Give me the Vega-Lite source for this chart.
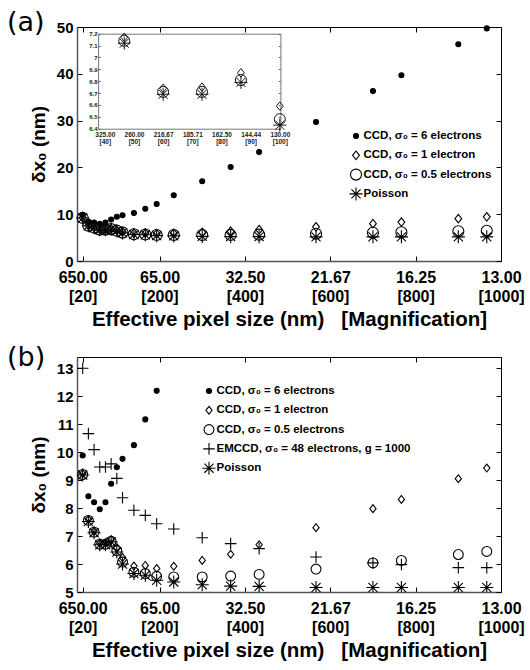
{
  "$schema": "https://vega.github.io/schema/vega-lite/v6.json",
  "padding": {"left": 6, "top": 8, "right": 5, "bottom": 5},
  "spacing": 13,
  "resolve": {"scale": {"shape": "independent", "size": "independent", "fill": "independent", "stroke": "independent"}, "legend": {"shape": "independent", "size": "independent", "fill": "independent", "stroke": "independent"}},
  "config": {
    "font": "Liberation Sans",
    "view": {"stroke": "black", "strokeWidth": 1},
    "axis": {"grid": false, "domainColor": "#555", "domainWidth": 1.5, "tickColor": "black", "labelFont": "Liberation Sans", "labelFontWeight": "bold", "labelColor": "black", "titleFont": "Liberation Sans", "titleFontWeight": "bold", "titleColor": "black", "labelOverlap": false, "labelFlush": false},
    "legend": {"labelFont": "Liberation Sans", "labelFontSize": 11.5, "labelFontWeight": "bold", "labelColor": "black", "labelLimit": 400, "symbolStrokeColor": "black", "symbolStrokeWidth": 1.1, "symbolOpacity": 1, "rowPadding": 5.3, "clipHeight": 14, "labelOffset": 0, "padding": 0}
  },
  "datasets": {
    "d": [
      {"M": 20, "s": "a", "v": 9.88}, {"M": 33.33, "s": "a", "v": 8.42}, {"M": 46.67, "s": "a", "v": 8.21}, {"M": 60, "s": "a", "v": 7.96}, {"M": 73.33, "s": "a", "v": 8.21}, {"M": 86.67, "s": "a", "v": 8.87}, {"M": 100, "s": "a", "v": 9.46}, {"M": 113.33, "s": "a", "v": 9.76}, {"M": 140, "s": "a", "v": 10.25}, {"M": 166.67, "s": "a", "v": 11.17}, {"M": 193.33, "s": "a", "v": 12.19}, {"M": 233.33, "s": "a", "v": 14.05}, {"M": 300, "s": "a", "v": 17.05}, {"M": 366.67, "s": "a", "v": 20.1}, {"M": 433.33, "s": "a", "v": 23.3}, {"M": 566.67, "s": "a", "v": 29.7}, {"M": 700, "s": "a", "v": 36.3}, {"M": 766.67, "s": "a", "v": 39.7}, {"M": 900, "s": "a", "v": 46.3}, {"M": 966.67, "s": "a", "v": 49.7},
      {"M": 20, "s": "b", "v": 9.23}, {"M": 33.33, "s": "b", "v": 7.59}, {"M": 46.67, "s": "b", "v": 7.17}, {"M": 60, "s": "b", "v": 6.74}, {"M": 73.33, "s": "b", "v": 6.75}, {"M": 86.67, "s": "b", "v": 6.87}, {"M": 100, "s": "b", "v": 6.59}, {"M": 113.33, "s": "b", "v": 6.23}, {"M": 140, "s": "b", "v": 5.93}, {"M": 166.67, "s": "b", "v": 5.95}, {"M": 193.33, "s": "b", "v": 5.84}, {"M": 233.33, "s": "b", "v": 5.92}, {"M": 300, "s": "b", "v": 6.13}, {"M": 366.67, "s": "b", "v": 6.35}, {"M": 433.33, "s": "b", "v": 6.69}, {"M": 566.67, "s": "b", "v": 7.3}, {"M": 700, "s": "b", "v": 7.98}, {"M": 766.67, "s": "b", "v": 8.31}, {"M": 900, "s": "b", "v": 9.05}, {"M": 966.67, "s": "b", "v": 9.43},
      {"M": 20, "s": "c", "v": 9.2}, {"M": 33.33, "s": "c", "v": 7.56}, {"M": 46.67, "s": "c", "v": 7.14}, {"M": 60, "s": "c", "v": 6.71}, {"M": 73.33, "s": "c", "v": 6.71}, {"M": 86.67, "s": "c", "v": 6.81}, {"M": 100, "s": "c", "v": 6.48}, {"M": 113.33, "s": "c", "v": 6.07}, {"M": 140, "s": "c", "v": 5.71}, {"M": 166.67, "s": "c", "v": 5.66}, {"M": 193.33, "s": "c", "v": 5.56}, {"M": 233.33, "s": "c", "v": 5.54}, {"M": 300, "s": "c", "v": 5.54}, {"M": 366.67, "s": "c", "v": 5.57}, {"M": 433.33, "s": "c", "v": 5.63}, {"M": 566.67, "s": "c", "v": 5.82}, {"M": 700, "s": "c", "v": 6.04}, {"M": 766.67, "s": "c", "v": 6.13}, {"M": 900, "s": "c", "v": 6.34}, {"M": 966.67, "s": "c", "v": 6.45},
      {"M": 20, "s": "e", "v": 13.0}, {"M": 33.33, "s": "e", "v": 10.66}, {"M": 46.67, "s": "e", "v": 10.09}, {"M": 60, "s": "e", "v": 9.47}, {"M": 73.33, "s": "e", "v": 9.47}, {"M": 86.67, "s": "e", "v": 9.58}, {"M": 100, "s": "e", "v": 9.06}, {"M": 113.33, "s": "e", "v": 8.37}, {"M": 140, "s": "e", "v": 7.92}, {"M": 166.67, "s": "e", "v": 7.74}, {"M": 193.33, "s": "e", "v": 7.44}, {"M": 233.33, "s": "e", "v": 7.25}, {"M": 300, "s": "e", "v": 6.94}, {"M": 366.67, "s": "e", "v": 6.73}, {"M": 433.33, "s": "e", "v": 6.55}, {"M": 566.67, "s": "e", "v": 6.25}, {"M": 700, "s": "e", "v": 6.04}, {"M": 766.67, "s": "e", "v": 5.98}, {"M": 900, "s": "e", "v": 5.87}, {"M": 966.67, "s": "e", "v": 5.87},
      {"M": 20, "s": "p", "v": 9.18}, {"M": 33.33, "s": "p", "v": 7.52}, {"M": 46.67, "s": "p", "v": 7.12}, {"M": 60, "s": "p", "v": 6.69}, {"M": 73.33, "s": "p", "v": 6.69}, {"M": 86.67, "s": "p", "v": 6.79}, {"M": 100, "s": "p", "v": 6.43}, {"M": 113.33, "s": "p", "v": 6.0}, {"M": 140, "s": "p", "v": 5.66}, {"M": 166.67, "s": "p", "v": 5.6}, {"M": 193.33, "s": "p", "v": 5.42}, {"M": 233.33, "s": "p", "v": 5.36}, {"M": 300, "s": "p", "v": 5.26}, {"M": 366.67, "s": "p", "v": 5.21}, {"M": 433.33, "s": "p", "v": 5.2}, {"M": 566.67, "s": "p", "v": 5.16}, {"M": 700, "s": "p", "v": 5.16}, {"M": 766.67, "s": "p", "v": 5.16}, {"M": 900, "s": "p", "v": 5.16}, {"M": 966.67, "s": "p", "v": 5.16}
    ]
  },
  "vconcat": [
    {
      "width": 424,
      "height": 234,
      "title": {"text": "(a)", "anchor": "start", "frame": "group", "offset": 0, "dx": -70, "dy": 17, "font": "DejaVu Sans", "fontSize": 27, "fontWeight": "normal", "color": "black"},
      "data": {"name": "d"},
      "transform": [{"filter": "datum.s != 'e'"}],
      "resolve": {"scale": {"x": "independent", "y": "independent"}},
      "layer": [
        {
          "mark": {"type": "point", "strokeWidth": 1.1, "opacity": 1},
          "encoding": {
            "x": {"field": "M", "type": "quantitative", "scale": {"domain": [6.667, 1000], "nice": false, "zero": false},
              "axis": {"orient": "bottom", "values": [20, 200, 400, 600, 800, 1000], "labelExpr": "[format(13000/datum.value, '.2f'), '[' + datum.value + ']']", "labelFontSize": 16, "labelLineHeight": 19, "tickSize": -5, "labelPadding": 13, "title": "Effective pixel size (nm)\u00a0\u00a0\u00a0[Magnification]", "titleFontSize": 20.5, "titlePadding": 5}},
            "y": {"field": "v", "type": "quantitative", "scale": {"domain": [0, 50], "nice": false, "zero": false},
              "axis": {"orient": "left", "values": [0, 10, 20, 30, 40, 50], "labelFontSize": 15, "tickSize": -5, "labelPadding": 9, "title": "δx₀ (nm)", "titleFontSize": 19, "titlePadding": 8}},
            "shape": {"field": "s", "type": "nominal", "scale": {"domain": ["a", "b", "c", "p"], "range": ["circle", "M0,-1L0.8,0L0,1L-0.8,0Z", "circle", "M-1,0L1,0M0,-1L0,1M-0.7,-0.7L0.7,0.7M-0.7,0.7L0.7,-0.7"]},
              "legend": {"orient": "none", "legendX": 271.5, "legendY": 102, "title": null, "labelExpr": "datum.label == 'a' ? 'CCD, σ₀ = 6 electrons' : datum.label == 'b' ? 'CCD, σ₀ = 1 electron' : datum.label == 'c' ? 'CCD, σ₀ = 0.5 electrons' : datum.label == 'e' ? 'EMCCD, σ₀ = 48 electrons, g = 1000' : 'Poisson'"}},
            "size": {"field": "s", "type": "nominal", "scale": {"domain": ["a", "b", "c", "p"], "range": [25, 170, 95, 64]},
              "legend": {"orient": "none", "legendX": 271.5, "legendY": 102, "title": null, "labelExpr": "datum.label == 'a' ? 'CCD, σ₀ = 6 electrons' : datum.label == 'b' ? 'CCD, σ₀ = 1 electron' : datum.label == 'c' ? 'CCD, σ₀ = 0.5 electrons' : datum.label == 'e' ? 'EMCCD, σ₀ = 48 electrons, g = 1000' : 'Poisson'"}},
            "fill": {"field": "s", "type": "nominal", "scale": {"domain": ["a", "b", "c", "p"], "range": ["black", "transparent", "transparent", "transparent"]},
              "legend": {"orient": "none", "legendX": 271.5, "legendY": 102, "title": null, "labelExpr": "datum.label == 'a' ? 'CCD, σ₀ = 6 electrons' : datum.label == 'b' ? 'CCD, σ₀ = 1 electron' : datum.label == 'c' ? 'CCD, σ₀ = 0.5 electrons' : datum.label == 'e' ? 'EMCCD, σ₀ = 48 electrons, g = 1000' : 'Poisson'"}},
            "stroke": {"field": "s", "type": "nominal", "scale": {"domain": ["a", "b", "c", "p"], "range": ["black", "black", "black", "black"]},
              "legend": {"orient": "none", "legendX": 271.5, "legendY": 102, "title": null, "labelExpr": "datum.label == 'a' ? 'CCD, σ₀ = 6 electrons' : datum.label == 'b' ? 'CCD, σ₀ = 1 electron' : datum.label == 'c' ? 'CCD, σ₀ = 0.5 electrons' : datum.label == 'e' ? 'EMCCD, σ₀ = 48 electrons, g = 1000' : 'Poisson'"}}
          }
        },
        {
          "mark": {"type": "point", "opacity": 0, "clip": true},
          "encoding": {
            "x": {"field": "M", "type": "quantitative", "scale": {"domain": [6.667, 1000], "nice": false, "zero": false},
              "axis": {"orient": "top", "values": [20, 200, 400, 600, 800, 1000], "labels": false, "tickSize": -5, "domain": false, "title": null}},
            "y": {"field": "v", "type": "quantitative", "scale": {"domain": [0, 50], "nice": false, "zero": false},
              "axis": {"orient": "right", "values": [0, 10, 20, 30, 40, 50], "labels": false, "tickSize": -5, "domain": false, "title": null}}
          }
        },
        {
          "transform": [{"filter": "datum.s != 'a' && datum.M >= 40 && datum.M <= 101"}],
          "mark": {"type": "point", "strokeWidth": 0.9, "opacity": 1},
          "encoding": {
            "x": {"field": "M", "type": "quantitative", "scale": {"domain": [37.7, 100.2], "range": [21.1, 203.4], "nice": false, "zero": false},
              "axis": {"orient": "bottom", "offset": -132.3, "values": [40, 50, 60, 70, 80, 90, 100], "labelExpr": "[format(13000/datum.value, '.2f'), '[' + datum.value + ']']", "labelFontSize": 6.5, "labelLineHeight": 7, "labelColor": "#222", "ticks": false, "labelPadding": 3, "domainColor": "#777", "domainWidth": 1, "title": null}},
            "y": {"field": "v", "type": "quantitative", "scale": {"domain": [6.4, 7.2], "range": [101.7, 6.7], "nice": false, "zero": false},
              "axis": {"orient": "left", "offset": -21.1, "values": [6.4, 6.5, 6.6, 6.7, 6.8, 6.9, 7, 7.1, 7.2], "format": "~g", "labelFontSize": 6, "labelColor": "#222", "tickSize": -2, "tickColor": "#555", "labelPadding": 3, "domainColor": "#777", "domainWidth": 1, "title": null}},
            "shape": {"field": "s", "type": "nominal", "legend": null},
            "size": {"field": "s", "type": "nominal", "legend": null},
            "fill": {"field": "s", "type": "nominal", "legend": null},
            "stroke": {"field": "s", "type": "nominal", "legend": null}
          }
        },
        {
          "transform": [{"filter": "datum.s != 'a' && datum.M >= 40 && datum.M <= 101"}],
          "mark": {"type": "point", "opacity": 0},
          "encoding": {
            "x": {"field": "M", "type": "quantitative", "scale": {"domain": [37.7, 100.2], "range": [21.1, 203.4], "nice": false, "zero": false},
              "axis": {"orient": "top", "offset": -6.7, "labels": false, "ticks": false, "domainColor": "#777", "domainWidth": 1, "title": null}},
            "y": {"field": "v", "type": "quantitative", "scale": {"domain": [6.4, 7.2], "range": [101.7, 6.7], "nice": false, "zero": false},
              "axis": {"orient": "right", "offset": -220.6, "values": [6.4, 6.5, 6.6, 6.7, 6.8, 6.9, 7, 7.1, 7.2], "labels": false, "tickSize": -2, "tickColor": "#555", "domainColor": "#777", "domainWidth": 1, "title": null}}
          }
        }
      ]
    },
    {
      "width": 424,
      "height": 235,
      "title": {"text": "(b)", "anchor": "start", "frame": "group", "offset": 0, "dx": -70, "dy": 15, "font": "DejaVu Sans", "fontSize": 27, "fontWeight": "normal", "color": "black"},
      "data": {"name": "d"},
      "resolve": {"axis": {"x": "independent", "y": "independent"}},
      "layer": [
        {
          "mark": {"type": "point", "strokeWidth": 1.1, "clip": true, "opacity": 1},
          "encoding": {
            "x": {"field": "M", "type": "quantitative", "scale": {"domain": [6.667, 1000], "nice": false, "zero": false},
              "axis": {"orient": "bottom", "values": [20, 200, 400, 600, 800, 1000], "labelExpr": "[format(13000/datum.value, '.2f'), '[' + datum.value + ']']", "labelFontSize": 16, "labelLineHeight": 19, "tickSize": -5, "labelPadding": 13, "title": "Effective pixel size (nm)\u00a0\u00a0\u00a0[Magnification]", "titleFontSize": 20.5, "titlePadding": 5}},
            "y": {"field": "v", "type": "quantitative", "scale": {"domain": [5, 13.4], "nice": false, "zero": false},
              "axis": {"orient": "left", "values": [5, 6, 7, 8, 9, 10, 11, 12, 13], "labelFontSize": 15, "tickSize": -5, "labelPadding": 9, "title": "δx₀ (nm)", "titleFontSize": 19, "titlePadding": 8}},
            "shape": {"field": "s", "type": "nominal", "scale": {"domain": ["a", "b", "c", "e", "p"], "range": ["circle", "M0,-1L0.8,0L0,1L-0.8,0Z", "circle", "M-1,0L1,0M0,-1L0,1", "M-1,0L1,0M0,-1L0,1M-0.7,-0.7L0.7,0.7M-0.7,0.7L0.7,-0.7"]},
              "legend": {"orient": "none", "legendX": 124.5, "legendY": 27, "title": null, "labelExpr": "datum.label == 'a' ? 'CCD, σ₀ = 6 electrons' : datum.label == 'b' ? 'CCD, σ₀ = 1 electron' : datum.label == 'c' ? 'CCD, σ₀ = 0.5 electrons' : datum.label == 'e' ? 'EMCCD, σ₀ = 48 electrons, g = 1000' : 'Poisson'"}},
            "size": {"field": "s", "type": "nominal", "scale": {"domain": ["a", "b", "c", "e", "p"], "range": [25, 170, 95, 100, 64]},
              "legend": {"orient": "none", "legendX": 124.5, "legendY": 27, "title": null, "labelExpr": "datum.label == 'a' ? 'CCD, σ₀ = 6 electrons' : datum.label == 'b' ? 'CCD, σ₀ = 1 electron' : datum.label == 'c' ? 'CCD, σ₀ = 0.5 electrons' : datum.label == 'e' ? 'EMCCD, σ₀ = 48 electrons, g = 1000' : 'Poisson'"}},
            "fill": {"field": "s", "type": "nominal", "scale": {"domain": ["a", "b", "c", "e", "p"], "range": ["black", "transparent", "transparent", "transparent", "transparent"]},
              "legend": {"orient": "none", "legendX": 124.5, "legendY": 27, "title": null, "labelExpr": "datum.label == 'a' ? 'CCD, σ₀ = 6 electrons' : datum.label == 'b' ? 'CCD, σ₀ = 1 electron' : datum.label == 'c' ? 'CCD, σ₀ = 0.5 electrons' : datum.label == 'e' ? 'EMCCD, σ₀ = 48 electrons, g = 1000' : 'Poisson'"}},
            "stroke": {"field": "s", "type": "nominal", "scale": {"domain": ["a", "b", "c", "e", "p"], "range": ["black", "black", "black", "black", "black"]},
              "legend": {"orient": "none", "legendX": 124.5, "legendY": 27, "title": null, "labelExpr": "datum.label == 'a' ? 'CCD, σ₀ = 6 electrons' : datum.label == 'b' ? 'CCD, σ₀ = 1 electron' : datum.label == 'c' ? 'CCD, σ₀ = 0.5 electrons' : datum.label == 'e' ? 'EMCCD, σ₀ = 48 electrons, g = 1000' : 'Poisson'"}}
          }
        },
        {
          "mark": {"type": "point", "opacity": 0, "clip": true},
          "encoding": {
            "x": {"field": "M", "type": "quantitative", "scale": {"domain": [6.667, 1000], "nice": false, "zero": false},
              "axis": {"orient": "top", "values": [20, 200, 400, 600, 800, 1000], "labels": false, "tickSize": -5, "domain": false, "title": null}},
            "y": {"field": "v", "type": "quantitative", "scale": {"domain": [5, 13.4], "nice": false, "zero": false},
              "axis": {"orient": "right", "values": [5, 6, 7, 8, 9, 10, 11, 12, 13], "labels": false, "tickSize": -5, "domain": false, "title": null}}
          }
        }
      ]
    }
  ]
}
